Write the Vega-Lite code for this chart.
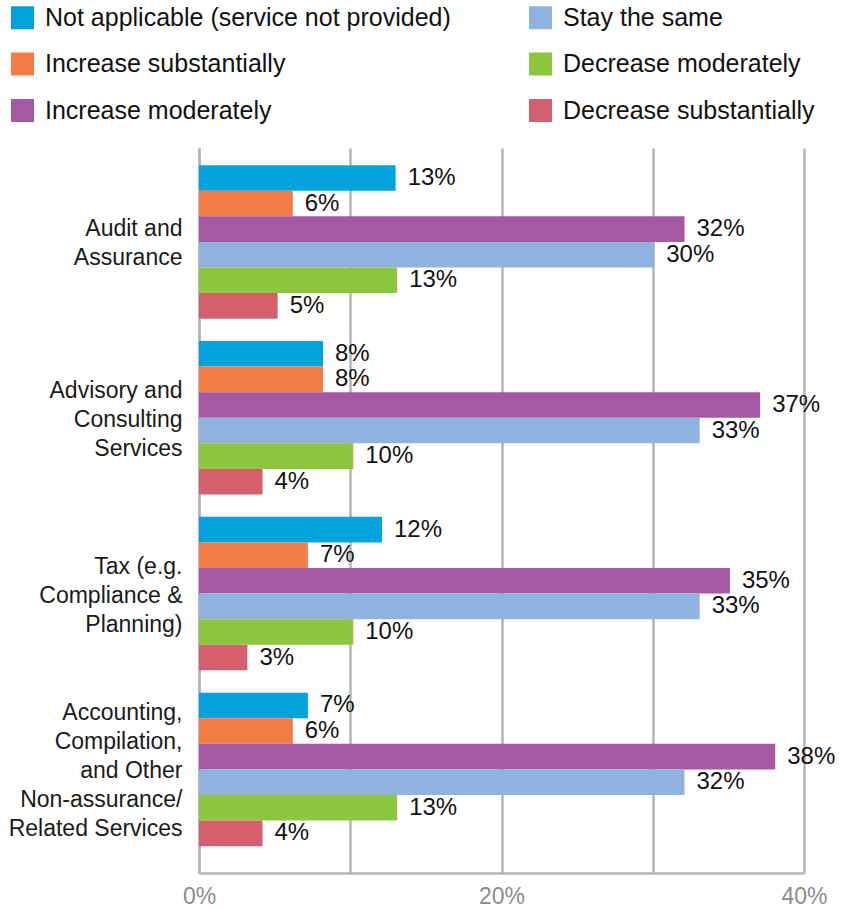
{
  "$schema": "https://vega.github.io/schema/vega-lite/v6.json",
  "width": 605,
  "height": 725,
  "autosize": {"type": "none"},
  "padding": {"left": 199, "top": 148, "right": 47, "bottom": 36},
  "background": "white",
  "config": {"view": {"stroke": null}, "font": "Liberation Sans"},
  "data": {
    "values": [
      {"service": "Audit and|Assurance", "response": "Not applicable (service not provided)", "value": 0.130},
      {"service": "Audit and|Assurance", "response": "Increase substantially", "value": 0.062},
      {"service": "Audit and|Assurance", "response": "Increase moderately", "value": 0.321},
      {"service": "Audit and|Assurance", "response": "Stay the same", "value": 0.301},
      {"service": "Audit and|Assurance", "response": "Decrease moderately", "value": 0.131},
      {"service": "Audit and|Assurance", "response": "Decrease substantially", "value": 0.052},
      {"service": "Advisory and|Consulting|Services", "response": "Not applicable (service not provided)", "value": 0.082},
      {"service": "Advisory and|Consulting|Services", "response": "Increase substantially", "value": 0.082},
      {"service": "Advisory and|Consulting|Services", "response": "Increase moderately", "value": 0.371},
      {"service": "Advisory and|Consulting|Services", "response": "Stay the same", "value": 0.331},
      {"service": "Advisory and|Consulting|Services", "response": "Decrease moderately", "value": 0.102},
      {"service": "Advisory and|Consulting|Services", "response": "Decrease substantially", "value": 0.042},
      {"service": "Tax (e.g.|Compliance &|Planning)", "response": "Not applicable (service not provided)", "value": 0.121},
      {"service": "Tax (e.g.|Compliance &|Planning)", "response": "Increase substantially", "value": 0.072},
      {"service": "Tax (e.g.|Compliance &|Planning)", "response": "Increase moderately", "value": 0.351},
      {"service": "Tax (e.g.|Compliance &|Planning)", "response": "Stay the same", "value": 0.331},
      {"service": "Tax (e.g.|Compliance &|Planning)", "response": "Decrease moderately", "value": 0.102},
      {"service": "Tax (e.g.|Compliance &|Planning)", "response": "Decrease substantially", "value": 0.032},
      {"service": "Accounting,|Compilation,|and Other|Non-assurance/|Related Services", "response": "Not applicable (service not provided)", "value": 0.072},
      {"service": "Accounting,|Compilation,|and Other|Non-assurance/|Related Services", "response": "Increase substantially", "value": 0.062},
      {"service": "Accounting,|Compilation,|and Other|Non-assurance/|Related Services", "response": "Increase moderately", "value": 0.381},
      {"service": "Accounting,|Compilation,|and Other|Non-assurance/|Related Services", "response": "Stay the same", "value": 0.321},
      {"service": "Accounting,|Compilation,|and Other|Non-assurance/|Related Services", "response": "Decrease moderately", "value": 0.131},
      {"service": "Accounting,|Compilation,|and Other|Non-assurance/|Related Services", "response": "Decrease substantially", "value": 0.042}
    ]
  },
  "encoding": {
    "y": {
      "field": "service",
      "type": "nominal",
      "sort": ["Audit and|Assurance", "Advisory and|Consulting|Services", "Tax (e.g.|Compliance &|Planning)", "Accounting,|Compilation,|and Other|Non-assurance/|Related Services"],
      "scale": {"paddingInner": 0.127, "paddingOuter": 0.125, "align": 0.39},
      "axis": {
        "title": null,
        "labelExpr": "split(datum.label, '|')",
        "labelFontSize": 23,
        "labelColor": "#1a1a1a",
        "labelLineHeight": 29,
        "labelPadding": 17,
        "labelLimit": 400,
        "labelOffset": {
          "condition": [
            {"test": "indexof(datum.value, 'Accounting') == 0", "value": -56},
            {"test": "indexof(datum.value, 'Audit') == 0", "value": -12.5}
          ],
          "value": -27
        },
        "ticks": false,
        "domainColor": "#b5b5b5",
        "domainWidth": 2.5
      }
    },
    "yOffset": {
      "field": "response",
      "type": "nominal",
      "sort": ["Not applicable (service not provided)", "Increase substantially", "Increase moderately", "Stay the same", "Decrease moderately", "Decrease substantially"],
      "scale": {"paddingInner": 0, "paddingOuter": 0}
    },
    "x": {
      "field": "value",
      "type": "quantitative",
      "scale": {"domain": [0, 0.4], "nice": false},
      "axis": {
        "title": null,
        "values": [0, 0.1, 0.2, 0.3, 0.4],
        "format": ".0%",
        "labelExpr": "(datum.label == '10%' || datum.label == '30%') ? '' : datum.label",
        "grid": true,
        "gridColor": "#b5b5b5",
        "gridWidth": 2.5,
        "domainColor": "#b5b5b5",
        "domainWidth": 2.5,
        "ticks": false,
        "labelFontSize": 23,
        "labelColor": "#8c8c8c",
        "labelPadding": 12,
        "labelFlush": false
      }
    }
  },
  "layer": [
    {
      "mark": {"type": "bar"},
      "encoding": {
        "color": {
          "field": "response",
          "type": "nominal",
          "scale": {
            "domain": ["Not applicable (service not provided)", "Increase substantially", "Increase moderately", "Stay the same", "Decrease moderately", "Decrease substantially"],
            "range": ["#02A2DC", "#F37B44", "#A459A2", "#8FB2DF", "#8DC73F", "#D35F6F"]
          },
          "legend": {
            "title": null,
            "orient": "none",
            "legendX": -189,
            "legendY": -143,
            "columns": 2,
            "padding": 0,
            "symbolType": "square",
            "symbolSize": 529,
            "symbolStrokeWidth": 0,
            "symbolOpacity": 1,
            "labelFontSize": 25,
            "labelColor": "#111111",
            "labelOffset": 10,
            "labelLimit": 600,
            "rowPadding": 20.5,
            "columnPadding": 77
          }
        }
      }
    },
    {
      "mark": {"type": "text", "align": "left", "baseline": "middle", "dx": 12, "fontSize": 24, "color": "#111111"},
      "encoding": {
        "text": {"field": "value", "type": "quantitative", "format": ".0%"}
      }
    }
  ]
}
